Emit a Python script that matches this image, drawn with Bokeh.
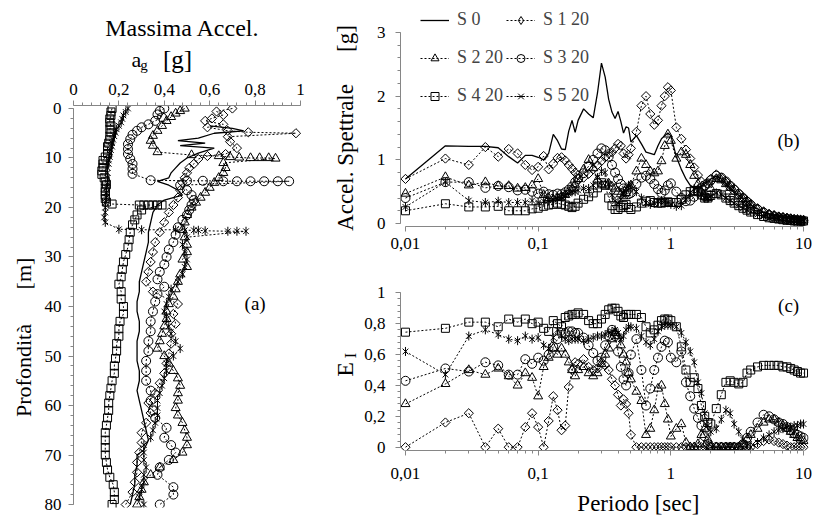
import math
from bokeh.plotting import figure
from bokeh.models import Range1d, FixedTicker, CustomJSTickFormatter, Label, Legend, LegendItem
from bokeh.layouts import row, column
from bokeh.embed import file_html
from bokeh.resources import INLINE

# ---------------- data: panel (a) peak acceleration profiles ----------------
DEPTH_S0 = [3.5, 4.0, 4.5, 5.0, 6.0, 6.5, 7.0, 7.5, 8.0, 9.0, 10, 11, 12, 13, 14, 14.7, 15.5, 16.5, 17.5, 18.5,
            19.5, 21, 23, 25, 27, 29, 31, 33, 35, 37, 39, 41, 43, 45, 47, 49, 51, 53, 55, 57, 59, 61, 63, 65, 67,
            69, 70, 72, 74, 76, 78, 80]
ACC_S0 = [0.60, 0.70, 0.75, 0.62, 0.55, 0.46, 0.58, 0.47, 0.62, 0.55, 0.50, 0.47, 0.45, 0.43, 0.42, 0.37, 0.42,
          0.46, 0.48, 0.40, 0.37, 0.35, 0.34, 0.33, 0.33, 0.32, 0.31, 0.30, 0.29, 0.29, 0.28, 0.28, 0.29, 0.29,
          0.28, 0.28, 0.28, 0.29, 0.29, 0.28, 0.29, 0.30, 0.31, 0.32, 0.33, 0.31, 0.28, 0.28, 0.27, 0.27, 0.26, 0.25]

DEPTH_S1 = [0, 0.6, 1.3, 2.0, 2.5, 3.2, 3.8, 4.5, 4.8, 5.0, 5.7, 6.7, 8.0, 9.2, 9.6, 10.2, 11.2, 12.0, 13.0, 14.0,
            15.0, 16.5, 18.0, 19.5, 21.0, 23.0, 25.0, 27.0, 29.0, 31.0, 33.0, 35.0, 37.0, 39.5, 41.5, 43.5, 45.5,
            47.5, 49.5, 51.5, 53.5, 55.5, 57.5, 59.5, 61.5, 63.5, 65.5, 67.5, 69.5, 71.5, 73.5, 75.5, 77.5, 80.0]
ACC_S1 = [0.70, 0.63, 0.66, 0.61, 0.58, 0.66, 0.59, 0.68, 0.77, 0.98, 0.68, 0.69, 0.72, 0.67, 0.59, 0.55, 0.53,
          0.51, 0.50, 0.49, 0.48, 0.47, 0.46, 0.44, 0.42, 0.40, 0.38, 0.36, 0.35, 0.34, 0.33, 0.32, 0.35, 0.46,
          0.44, 0.45, 0.43, 0.43, 0.42, 0.41, 0.40, 0.38, 0.36, 0.33, 0.34, 0.32, 0.30, 0.30, 0.29, 0.28, 0.28,
          0.27, 0.26, 0.23]

DEPTH_S2 = [0, 0.5, 1.0, 1.7, 2.5, 3.5, 4.5, 5.5, 6.5, 7.5, 8.8, 9.4, 9.6, 9.8, 9.9, 10.0, 10.0, 10.0, 10.1, 11.0,
            12.0, 13.0, 14.0, 15.0, 16.0, 17.0, 18.0, 19.0, 20.0, 21.5, 23.0, 24.5, 26.0, 27.5, 29.0, 30.5, 32.0,
            33.5, 35.0, 36.5, 38.0, 39.5, 41.0, 42.5, 44.0, 45.5, 47.0, 48.5, 50.0, 51.5, 53.0, 54.5, 56.0, 57.5,
            59.0, 60.5, 62.0, 63.5, 65.0, 66.5, 68.0, 69.5, 71.0, 72.5, 74.0, 75.5, 77.0, 78.5, 80.0]
ACC_S2 = [0.49, 0.47, 0.45, 0.43, 0.41, 0.39, 0.37, 0.35, 0.34, 0.35, 0.37, 0.52, 0.64, 0.69, 0.73, 0.78, 0.82,
          0.86, 0.89, 0.66, 0.67, 0.66, 0.64, 0.62, 0.60, 0.58, 0.56, 0.54, 0.52, 0.50, 0.49, 0.48, 0.49, 0.50,
          0.50, 0.48, 0.50, 0.47, 0.46, 0.45, 0.44, 0.42, 0.41, 0.41, 0.40, 0.39, 0.38, 0.37, 0.40, 0.42, 0.44,
          0.46, 0.47, 0.46, 0.46, 0.45, 0.46, 0.48, 0.49, 0.50, 0.50, 0.48, 0.44, 0.38, 0.34, 0.31, 0.30, 0.29, 0.28]

DEPTH_S3 = [0, 0.5, 1.2, 1.8, 2.5, 3.2, 3.8, 4.5, 5.3, 6.2, 7.2, 8.2, 9.2, 10.2, 11.2, 12.2, 13.2, 14.5, 14.6,
            14.6, 14.7, 14.7, 14.7, 14.7, 14.7, 14.7, 15.5, 16.5, 17.5, 18.5, 19.5, 20.5, 21.5, 22.5, 24.0, 25.5,
            27.0, 28.5, 30.0, 31.5, 33.0, 34.5, 36.0, 37.5, 39.0, 41.0, 43.0, 45.0, 47.0, 49.0, 51.0, 53.0, 55.0,
            57.0, 59.0, 61.0, 62.5, 64.5, 66.5, 68.0, 69.5, 71.0, 72.5, 74.0, 76.5, 78.0, 80.0]
ACC_S3 = [0.40, 0.38, 0.37, 0.39, 0.36, 0.33, 0.30, 0.28, 0.26, 0.25, 0.24, 0.24, 0.24, 0.25, 0.26, 0.26, 0.26,
          0.34, 0.50, 0.57, 0.66, 0.72, 0.78, 0.84, 0.90, 0.95, 0.47, 0.50, 0.52, 0.53, 0.52, 0.51, 0.50, 0.48,
          0.46, 0.45, 0.44, 0.42, 0.41, 0.40, 0.38, 0.37, 0.40, 0.37, 0.36, 0.35, 0.34, 0.34, 0.33, 0.33, 0.32,
          0.32, 0.32, 0.34, 0.34, 0.35, 0.36, 0.41, 0.40, 0.43, 0.45, 0.42, 0.38, 0.37, 0.44, 0.44, 0.38]

DEPTH_S4 = [0, 0.7, 1.4, 2.1, 2.8, 3.5, 4.2, 4.9, 5.6, 6.3, 7.0, 7.7, 8.4, 9.1, 9.8, 10.5, 11.2, 11.9, 12.6, 13.3,
            14.0, 14.7, 15.4, 16.1, 16.8, 17.5, 18.2, 18.9, 19.3, 19.5, 19.5, 19.5, 19.5, 19.5, 19.5, 20.5, 21.5,
            22.5, 23.5, 25.0, 26.5, 28.0, 29.5, 31.0, 32.5, 34.0, 35.5, 37.0, 38.5, 40.0, 41.5, 43.0, 44.5, 46.0,
            47.5, 49.0, 50.5, 52.0, 53.5, 55.0, 56.5, 58.0, 59.5, 61.0, 62.5, 64.0, 65.5, 67.0, 68.5, 70.0, 71.5,
            73.0, 74.5, 76.0, 77.5, 79.0, 80.0]
ACC_S4 = [0.17, 0.165, 0.165, 0.16, 0.16, 0.165, 0.16, 0.165, 0.16, 0.16, 0.155, 0.15, 0.15, 0.15, 0.14, 0.13,
          0.13, 0.13, 0.125, 0.125, 0.135, 0.14, 0.145, 0.14, 0.14, 0.14, 0.14, 0.145, 0.17, 0.29, 0.31, 0.33,
          0.35, 0.37, 0.39, 0.30, 0.28, 0.27, 0.26, 0.25, 0.245, 0.24, 0.23, 0.22, 0.215, 0.21, 0.20, 0.21, 0.21,
          0.22, 0.22, 0.205, 0.20, 0.20, 0.19, 0.19, 0.185, 0.18, 0.18, 0.17, 0.165, 0.16, 0.155, 0.155, 0.15,
          0.145, 0.14, 0.14, 0.14, 0.14, 0.145, 0.15, 0.16, 0.175, 0.18, 0.18, 0.17]

DEPTH_S5 = [0, 0.7, 1.4, 2.1, 2.8, 3.5, 4.2, 4.9, 5.6, 6.3, 7.0, 7.7, 8.4, 9.1, 9.8, 10.5, 11.2, 12.0, 13.0, 14.0,
            15.0, 16.0, 17.0, 18.0, 19.0, 20.0, 21.0, 22.0, 23.0, 24.4, 24.5, 24.5, 24.6, 24.6, 24.6, 24.7, 24.8,
            24.8, 24.8, 26.0, 27.5, 29.0, 30.5, 32.0, 33.5, 35.0, 36.5, 38.0, 39.5, 41.0, 42.5, 44.0, 45.5, 47.0,
            48.5, 50.0, 51.5, 53.0, 54.5, 56.0, 57.5, 59.0, 60.5, 62.0, 63.5, 65.0, 66.5, 68.0, 69.5, 71.0, 72.5,
            74.0, 75.5, 77.0, 78.5, 80.0]
ACC_S5 = [0.24, 0.23, 0.22, 0.215, 0.21, 0.20, 0.19, 0.185, 0.18, 0.175, 0.17, 0.17, 0.165, 0.16, 0.16, 0.155,
          0.155, 0.15, 0.15, 0.15, 0.15, 0.145, 0.145, 0.145, 0.14, 0.14, 0.14, 0.135, 0.14, 0.20, 0.30, 0.45,
          0.49, 0.53, 0.55, 0.58, 0.68, 0.72, 0.76, 0.50, 0.48, 0.49, 0.50, 0.49, 0.48, 0.46, 0.43, 0.42, 0.41,
          0.40, 0.41, 0.42, 0.43, 0.45, 0.47, 0.44, 0.41, 0.41, 0.40, 0.39, 0.38, 0.37, 0.37, 0.37, 0.36, 0.35,
          0.34, 0.31, 0.31, 0.31, 0.32, 0.31, 0.31, 0.30, 0.29, 0.31]

# ---------------- data: panels (b) and (c) ----------------
PERIOD = [0.01, 0.02, 0.03, 0.04, 0.05, 0.06, 0.07, 0.08, 0.09, 0.10,
          0.11, 0.12, 0.13, 0.14, 0.15, 0.16, 0.17, 0.18, 0.19, 0.20,
          0.22, 0.24, 0.26, 0.28, 0.30, 0.32, 0.34, 0.36, 0.38, 0.40,
          0.42, 0.44, 0.46, 0.48, 0.50, 0.55, 0.60, 0.65, 0.70, 0.75,
          0.80, 0.85, 0.90, 0.95, 1.0, 1.1, 1.2, 1.3, 1.4, 1.5,
          1.6, 1.7, 1.8, 1.9, 2.0, 2.2, 2.4, 2.6, 2.8, 3.0,
          3.25, 3.5, 3.75, 4.0, 4.5, 5.0, 5.5, 6.0, 6.5, 7.0,
          7.5, 8.0, 8.5, 9.0, 9.5, 10.0]

SA_S0 = [0.70, 1.22, 1.21, 1.21, 1.19, 1.05, 0.95, 1.07, 1.07, 1.04,
         1.00, 1.10, 1.40, 1.30, 1.17, 1.16, 1.45, 1.62, 1.43, 1.62,
         1.80, 1.72, 1.66, 2.05, 2.52, 2.30, 1.95, 1.75, 1.65, 1.76,
         1.60, 1.42, 1.52, 1.50, 1.28, 1.38, 1.25, 1.12, 1.10, 1.08,
         1.22, 1.33, 1.38, 1.42, 1.38, 1.05, 0.85, 0.70, 0.60, 0.55,
         0.55, 0.58, 0.62, 0.66, 0.70, 0.74, 0.70, 0.62, 0.55, 0.50,
         0.44, 0.38, 0.33, 0.29, 0.23, 0.18, 0.15, 0.13, 0.11, 0.10,
         0.09, 0.08, 0.07, 0.06, 0.06, 0.05]
SA_S1 = [0.70, 1.02, 0.92, 1.20, 1.05, 1.17, 1.10, 0.92, 0.84, 0.89,
         1.06, 0.85, 0.94, 1.03, 1.04, 0.99, 0.92, 0.86, 0.80, 0.76,
         0.72, 0.78, 0.85, 0.92, 0.98, 1.04, 1.10, 1.12, 1.18, 1.25,
         1.22, 1.10, 1.02, 1.08, 1.18, 1.44, 1.85, 2.00, 1.72, 1.55,
         1.62, 1.85, 2.00, 2.14, 2.09, 1.51, 1.33, 1.16, 1.02, 0.88,
         0.76, 0.66, 0.58, 0.62, 0.70, 0.77, 0.72, 0.66, 0.60, 0.55,
         0.48, 0.41, 0.36, 0.31, 0.24, 0.19, 0.15, 0.13, 0.11, 0.10,
         0.09, 0.08, 0.07, 0.06, 0.06, 0.05]
SA_S2 = [0.47, 0.73, 0.60, 0.65, 0.59, 0.59, 0.55, 0.56, 0.60, 0.70,
         0.45, 0.40, 0.38, 0.40, 0.42, 0.45, 0.50, 0.55, 0.61, 0.70,
         0.85, 1.00, 0.87, 0.69, 0.60, 0.60, 0.63, 0.58, 0.55, 0.50,
         0.46, 0.43, 0.48, 0.55, 0.60, 0.82, 1.02, 0.92, 0.82, 0.79,
         0.82, 0.98, 1.22, 1.40, 1.30, 1.02, 1.12, 1.08, 0.92, 0.75,
         0.62, 0.50, 0.42, 0.40, 0.55, 0.70, 0.68, 0.62, 0.56, 0.50,
         0.44, 0.38, 0.33, 0.29, 0.22, 0.17, 0.14, 0.12, 0.10, 0.09,
         0.08, 0.07, 0.06, 0.06, 0.05, 0.05]
SA_S3 = [0.40, 0.65, 0.65, 0.56, 0.59, 0.57, 0.52, 0.53, 0.50, 0.47,
         0.50, 0.46, 0.45, 0.47, 0.46, 0.49, 0.53, 0.58, 0.65, 0.70,
         0.79, 0.90, 1.00, 1.10, 1.18, 1.15, 1.05, 0.92, 0.80, 0.70,
         0.62, 0.55, 0.50, 0.46, 0.48, 0.62, 0.72, 0.75, 0.70, 0.62,
         0.54, 0.48, 0.52, 0.60, 0.63, 0.50, 0.40, 0.35, 0.36, 0.42,
         0.50, 0.56, 0.60, 0.63, 0.68, 0.75, 0.72, 0.66, 0.59, 0.53,
         0.46, 0.40, 0.34, 0.29, 0.22, 0.17, 0.13, 0.11, 0.09, 0.08,
         0.07, 0.06, 0.05, 0.05, 0.04, 0.04]
SA_S4 = [0.20, 0.31, 0.26, 0.26, 0.27, 0.20, 0.20, 0.20, 0.23, 0.24,
         0.27, 0.29, 0.30, 0.32, 0.30, 0.29, 0.27, 0.25, 0.27, 0.32,
         0.38, 0.42, 0.48, 0.56, 0.64, 0.60, 0.40, 0.28, 0.22, 0.22,
         0.25, 0.28, 0.30, 0.25, 0.22, 0.26, 0.32, 0.35, 0.36, 0.33,
         0.32, 0.32, 0.33, 0.34, 0.33, 0.33, 0.38, 0.45, 0.50, 0.52,
         0.50, 0.45, 0.40, 0.40, 0.44, 0.47, 0.45, 0.40, 0.36, 0.32,
         0.28, 0.24, 0.21, 0.18, 0.14, 0.11, 0.09, 0.08, 0.07, 0.06,
         0.05, 0.05, 0.04, 0.04, 0.04, 0.04]
SA_S5 = [0.26, 0.65, 0.36, 0.33, 0.35, 0.33, 0.33, 0.33, 0.36, 0.33,
         0.35, 0.36, 0.38, 0.40, 0.42, 0.45, 0.47, 0.50, 0.50, 0.52,
         0.55, 0.55, 0.60, 0.72, 0.82, 0.80, 0.62, 0.45, 0.35, 0.32,
         0.38, 0.48, 0.55, 0.60, 0.60, 0.50, 0.40, 0.32, 0.30, 0.32,
         0.35, 0.36, 0.35, 0.33, 0.30, 0.27, 0.28, 0.38, 0.48, 0.55,
         0.52, 0.45, 0.40, 0.40, 0.43, 0.48, 0.46, 0.40, 0.36, 0.32,
         0.28, 0.24, 0.21, 0.18, 0.14, 0.11, 0.09, 0.08, 0.07, 0.06,
         0.05, 0.05, 0.04, 0.04, 0.04, 0.04]

EI_S1 = [0.00, 0.16, 0.22, 0.00, 0.12, 0.00, 0.00, 0.13, 0.22, 0.13,
         0.00, 0.17, 0.33, 0.24, 0.11, 0.14, 0.39, 0.50, 0.55, 0.54,
         0.57, 0.52, 0.50, 0.51, 0.55, 0.53, 0.50, 0.44, 0.40, 0.34,
         0.27, 0.31, 0.28, 0.22, 0.08, 0.00, 0.00, 0.00, 0.00, 0.00,
         0.00, 0.00, 0.00, 0.00, 0.00, 0.00, 0.00, 0.00, 0.00, 0.00,
         0.00, 0.00, 0.00, 0.00, 0.00, 0.00, 0.00, 0.00, 0.00, 0.00,
         0.00, 0.00, 0.00, 0.00, 0.02, 0.04, 0.05, 0.04, 0.03, 0.02,
         0.01, 0.00, 0.00, 0.00, 0.00, 0.00]
EI_S2 = [0.28, 0.41, 0.50, 0.47, 0.51, 0.46, 0.40, 0.48, 0.45, 0.33,
         0.52, 0.58, 0.64, 0.60, 0.64, 0.60, 0.55, 0.50, 0.46, 0.50,
         0.52, 0.48, 0.46, 0.48, 0.54, 0.60, 0.64, 0.70, 0.74, 0.72,
         0.66, 0.60, 0.55, 0.48, 0.44, 0.36, 0.30, 0.08, 0.12, 0.24,
         0.38, 0.40, 0.28, 0.18, 0.07, 0.12, 0.15, 0.03, 0.00, 0.00,
         0.02, 0.08, 0.12, 0.05, 0.00, 0.00, 0.00, 0.00, 0.00, 0.00,
         0.00, 0.02, 0.05, 0.08, 0.12, 0.16, 0.18, 0.18, 0.16, 0.14,
         0.12, 0.10, 0.08, 0.06, 0.05, 0.04]
EI_S3 = [0.43, 0.51, 0.49, 0.55, 0.53, 0.47, 0.47, 0.57, 0.54, 0.58,
         0.56, 0.60, 0.65, 0.70, 0.74, 0.74, 0.75, 0.75, 0.74, 0.74,
         0.71, 0.66, 0.61, 0.56, 0.58, 0.66, 0.72, 0.76, 0.72, 0.62,
         0.52, 0.44, 0.40, 0.48, 0.60, 0.70, 0.50, 0.27, 0.38, 0.50,
         0.58, 0.65, 0.69, 0.68, 0.58, 0.55, 0.62, 0.42, 0.33, 0.25,
         0.19, 0.14, 0.07, 0.02, 0.00, 0.00, 0.00, 0.00, 0.00, 0.00,
         0.00, 0.02, 0.06, 0.10, 0.16, 0.21, 0.20, 0.18, 0.16, 0.15,
         0.13, 0.11, 0.09, 0.08, 0.07, 0.06]
EI_S4 = [0.745, 0.77, 0.81, 0.81, 0.78, 0.83, 0.81, 0.83, 0.80, 0.81,
         0.77, 0.75, 0.82, 0.80, 0.78, 0.84, 0.85, 0.86, 0.86, 0.87,
         0.86, 0.82, 0.80, 0.80, 0.83, 0.86, 0.89, 0.90, 0.90, 0.88,
         0.85, 0.84, 0.86, 0.86, 0.86, 0.86, 0.84, 0.78, 0.74, 0.76,
         0.79, 0.82, 0.83, 0.83, 0.82, 0.78, 0.65, 0.50, 0.42, 0.45,
         0.38, 0.27, 0.20, 0.16, 0.15, 0.25, 0.34, 0.42, 0.43, 0.42,
         0.41, 0.42, 0.48, 0.50, 0.52, 0.53, 0.53, 0.53, 0.53, 0.52,
         0.52, 0.51, 0.50, 0.49, 0.48, 0.48]
EI_S5 = [0.62, 0.47, 0.72, 0.76, 0.73, 0.70, 0.69, 0.72, 0.70, 0.71,
         0.66, 0.64, 0.71, 0.76, 0.72, 0.70, 0.69, 0.70, 0.70, 0.70,
         0.69, 0.70, 0.71, 0.72, 0.72, 0.73, 0.74, 0.75, 0.76, 0.74,
         0.70, 0.72, 0.76, 0.78, 0.78, 0.77, 0.72, 0.68, 0.66, 0.70,
         0.75, 0.78, 0.79, 0.79, 0.79, 0.78, 0.74, 0.68, 0.62, 0.55,
         0.42, 0.35, 0.22, 0.14, 0.10, 0.12, 0.18, 0.24, 0.22, 0.15,
         0.10, 0.05, 0.01, 0.00, 0.03, 0.06, 0.08, 0.10, 0.11, 0.12,
         0.13, 0.13, 0.14, 0.14, 0.15, 0.15]

SERIES_NAMES = ["S 0", "S 1 20", "S 2 20", "S 3 20", "S 4 20", "S 5 20"]
ACCEL_TICKS = [0, 0.2, 0.4, 0.6, 0.8, 1.0]
DEPTH_TICKS = [0, 10, 20, 30, 40, 50, 60, 70, 80]
SA_TICKS = [0, 1, 2, 3]
EI_TICKS = [0, 0.2, 0.4, 0.6, 0.8, 1.0]
PERIOD_TICKS = [0.01, 0.1, 1, 10]

# ---------------- styling ----------------
FONT = "Liberation Serif"
AXC = "#868686"
DASH = "2 2"
MARKERS = {
    1: [("square", 6.5, math.pi / 4)],
    2: [("triangle", 9, 0.0)],
    3: [("circle", 9, 0.0)],
    4: [("square", 8, 0.0)],
    5: [("x", 8, 0.0), ("dash", 9, math.pi / 2)],
}
FMT = CustomJSTickFormatter(code="""
const v = Math.round(tick * 1000) / 1000;
return v.toString().replace('.', ',');
""")


def style_axis(ax, ticks, minor, standoff):
    ax.ticker = FixedTicker(ticks=ticks, minor_ticks=minor)
    ax.formatter = FMT
    ax.axis_line_color = AXC
    ax.major_tick_line_color = AXC
    ax.minor_tick_line_color = AXC
    ax.major_tick_in = 0
    ax.major_tick_out = 5
    ax.minor_tick_in = 0
    ax.minor_tick_out = 3
    ax.major_label_text_font = FONT
    ax.major_label_text_font_size = "17px"
    ax.major_label_text_color = "black"
    ax.major_label_standoff = standoff


def base(p):
    p.outline_line_color = None
    p.grid.visible = False
    p.background_fill_color = "white"
    p.border_fill_color = "white"


def text_fig(x0, x1, y0, y1, bl=0, br=0):
    # blank canvas; its frame (canvas minus side borders) maps to page pixels
    p = figure(width=x1 - x0, height=y1 - y0, x_range=Range1d(x0 + bl, x1 - br),
               y_range=Range1d(y1, y0), x_axis_location=None, y_axis_location=None,
               min_border=0, min_border_left=bl, min_border_right=br,
               output_backend="svg", toolbar_location=None)
    base(p)
    return p


def add_series(p, x, y, k):
    rs = [p.line(x, y, line_color="black", line_width=1, line_dash=DASH)]
    for mk, sz, ang in MARKERS[k]:
        rs.append(p.scatter(x, y, marker=mk, size=sz, angle=ang, line_color="black",
                            line_width=1, fill_color=None))
    return rs


def label(p, x, y, text, size, angle=0.0, baseline="middle"):
    p.add_layout(Label(x=x, y=y, text=text, text_font=FONT, text_font_size=size,
                       text_align="center", text_baseline=baseline, angle=angle,
                       text_color="black"))


# ---------------- panel (a) ----------------
ylab_a = text_fig(0, 37, 0, 517)
label(ylab_a, 23, 370, "Profondità", "22px", math.pi / 2)
label(ylab_a, 23, 273, "[m]", "22px", math.pi / 2)

# same side borders as the plot below it, so the stacked frames line up
head_a = text_fig(37, 320, 0, 73, bl=36, br=9)
label(head_a, 182, 27, "Massima Accel.", "24px", baseline="alphabetic")
label(head_a, 136, 59, "a", "22px", baseline="alphabetic")
label(head_a, 143.5, 64, "g", "15px", baseline="alphabetic")
label(head_a, 177, 59, "[g]", "25px", baseline="alphabetic")

pa = figure(width=283, height=444, x_range=Range1d(0, 1.0485), y_range=Range1d(80.606, -0.606),
            x_axis_location="above", min_border_left=36, min_border_right=9,
            min_border_top=32, min_border_bottom=10,
            output_backend="svg", toolbar_location=None)
base(pa)
style_axis(pa.xaxis[0], ACCEL_TICKS, [i * 0.04 for i in range(26)], 6)
pa.xaxis[0].bounds = (0, 1)
style_axis(pa.yaxis[0], DEPTH_TICKS, list(range(0, 81, 2)), 7)
pa.yaxis[0].bounds = (0, 80)

pa.line(ACC_S0, DEPTH_S0, line_color="black", line_width=1.3)
add_series(pa, ACC_S1, DEPTH_S1, 1)
add_series(pa, ACC_S2, DEPTH_S2, 2)
add_series(pa, ACC_S3, DEPTH_S3, 3)
add_series(pa, ACC_S4, DEPTH_S4, 4)
add_series(pa, ACC_S5, DEPTH_S5, 5)
label(pa, 0.80, 39.4, "(a)", "19px")

# ---------------- panel (b) ----------------
log_minor = [m * 10.0 ** e for e in (-2, -1, 0) for m in range(2, 10)]
XR = (0.009173, 10.90)

ylab_bc = text_fig(320, 361, 0, 517)
label(ylab_bc, 345, 157, "Accel. Spettrale", "23px", math.pi / 2)
label(ylab_bc, 345, 38, "[g]", "23px", math.pi / 2)
label(ylab_bc, 344, 369, "E", "24px", math.pi / 2)
label(ylab_bc, 350, 355, "I", "16px", math.pi / 2)

pb = figure(width=474, height=258, x_axis_type="log", x_range=Range1d(*XR),
            y_range=Range1d(-0.0471, 3.408), min_border_left=37, min_border_right=27,
            min_border_top=6, min_border_bottom=32,
            output_backend="svg", toolbar_location=None)
base(pb)
style_axis(pb.xaxis[0], PERIOD_TICKS, log_minor, 6)
pb.xaxis[0].bounds = (0.01, 10)
style_axis(pb.yaxis[0], SA_TICKS, [i * 0.2 for i in range(16)], 10)
pb.yaxis[0].bounds = (0, 3)

r0 = pb.line(PERIOD, SA_S0, line_color="black", line_width=1.3)
rb = {}
for k, ys in ((1, SA_S1), (2, SA_S2), (3, SA_S3), (4, SA_S4), (5, SA_S5)):
    rb[k] = add_series(pb, PERIOD, ys, k)
# legend key for the diamond series (Bokeh legends draw markers unrotated)
key_d = pb.scatter([1e-6], [-5.0], marker="diamond", size=9, line_color="black", line_width=1,
                   fill_color=None)

leg_kw = dict(label_text_font=FONT, label_text_font_size="18px", glyph_width=29, glyph_height=20,
              label_height=20, label_standoff=8, spacing=17, padding=0, margin=0,
              border_line_color=None, background_fill_alpha=0, orientation="vertical")
leg1 = Legend(items=[LegendItem(label=SERIES_NAMES[0], renderers=[r0]),
                     LegendItem(label=SERIES_NAMES[2], renderers=rb[2]),
                     LegendItem(label=SERIES_NAMES[4], renderers=rb[4])],
              location=(20, 120), **leg_kw)
leg2 = Legend(items=[LegendItem(label=SERIES_NAMES[1], renderers=[rb[1][0], key_d]),
                     LegendItem(label=SERIES_NAMES[3], renderers=rb[3]),
                     LegendItem(label=SERIES_NAMES[5], renderers=rb[5])],
              location=(106, 120), **leg_kw)
pb.add_layout(leg1)
pb.add_layout(leg2)
label(pb, 7.72, 1.304, "(b)", "19px")

# ---------------- panel (c) ----------------
pc = figure(width=474, height=229, x_axis_type="log", x_range=Range1d(*XR),
            y_range=Range1d(-0.0214, 1.002), min_border_left=37, min_border_right=27,
            min_border_top=34, min_border_bottom=37,
            output_backend="svg", toolbar_location=None)
base(pc)
style_axis(pc.xaxis[0], PERIOD_TICKS, log_minor, 12)
pc.xaxis[0].bounds = (0.01, 10)
style_axis(pc.yaxis[0], EI_TICKS, [i * 0.04 for i in range(26)], 10)
pc.yaxis[0].bounds = (0, 1)

for k, ys in ((1, EI_S1), (2, EI_S2), (3, EI_S3), (4, EI_S4), (5, EI_S5)):
    add_series(pc, PERIOD, ys, k)
label(pc, 7.72, 0.918, "(c)", "19px")

foot_c = text_fig(361, 835, 487, 517, bl=37, br=27)
label(foot_c, 637, 503, "Periodo [sec]", "23px")

layout = row(ylab_a, column(head_a, pa), ylab_bc, column(pb, pc, foot_c))
open("out.html", "w").write(file_html(layout, INLINE))
